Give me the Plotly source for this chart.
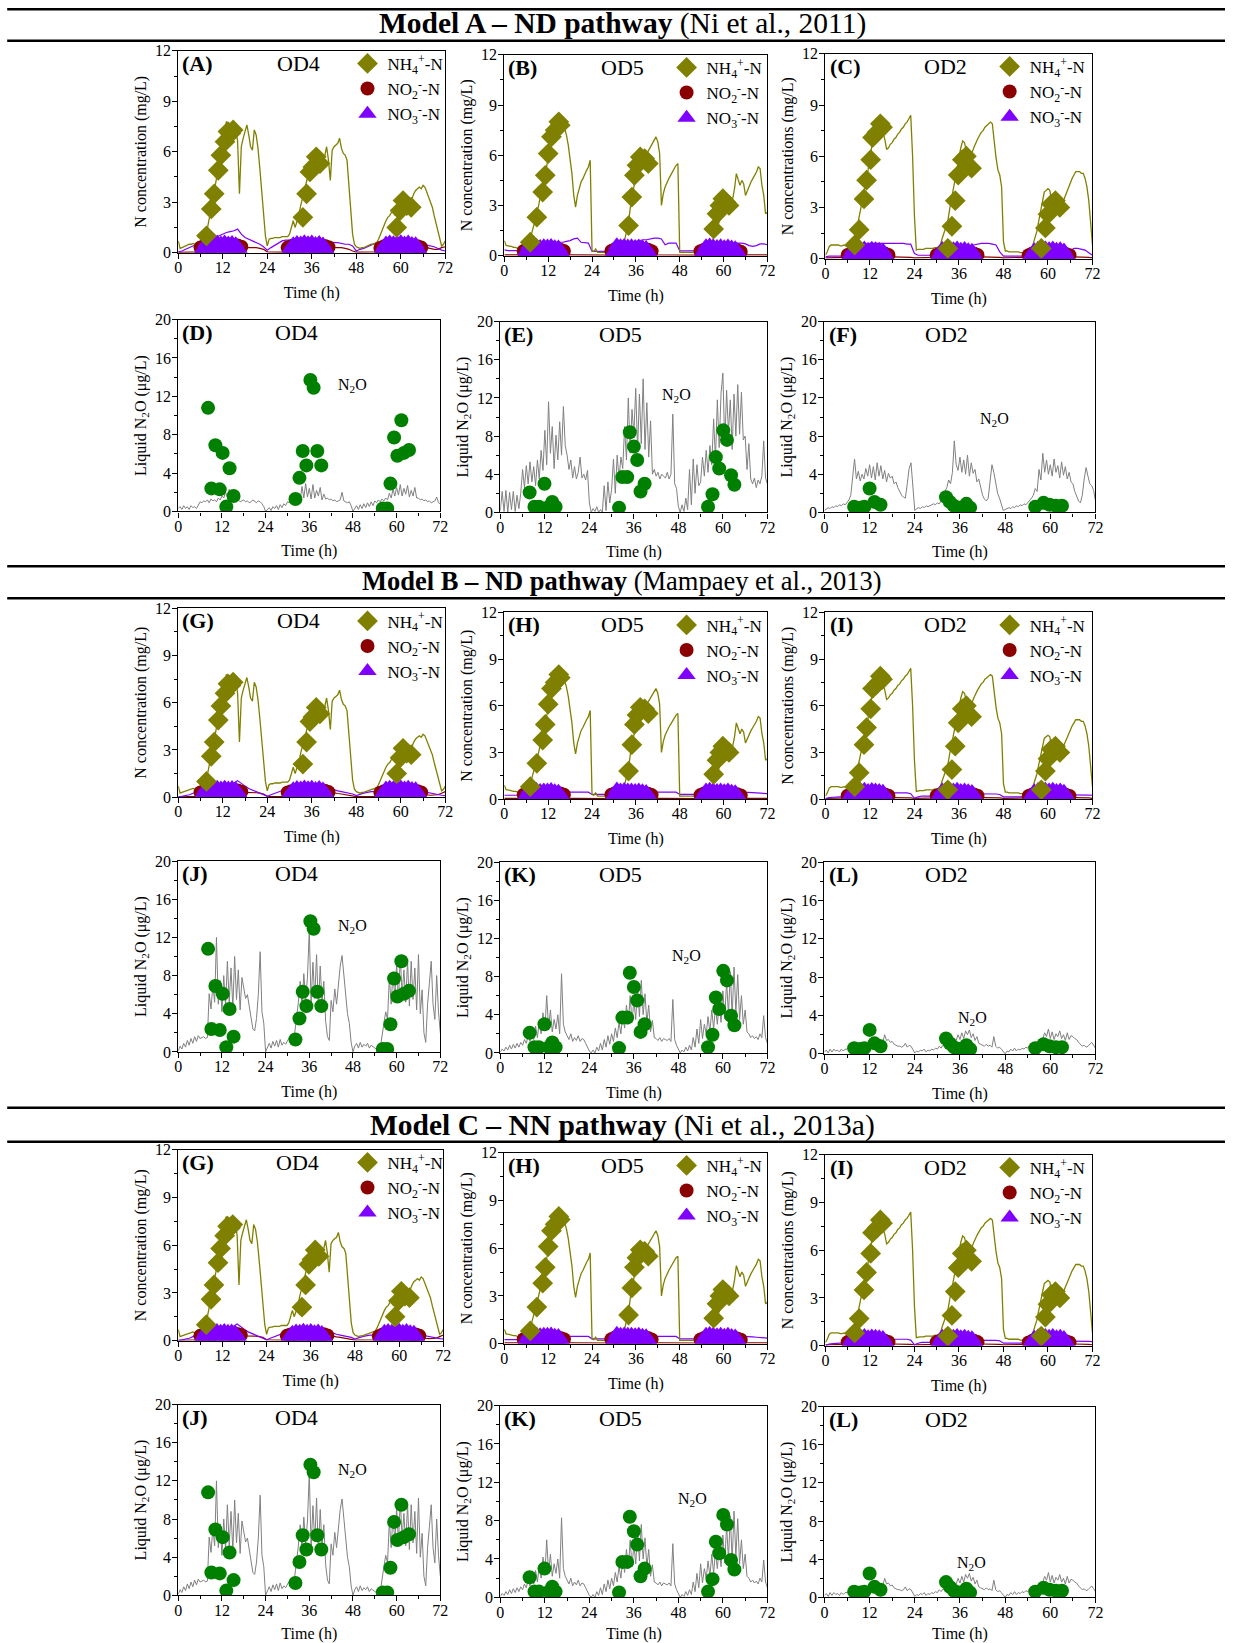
import numpy as np
import plotly.graph_objects as go

W, H = 1233, 1643
FONT = "Liberation Serif, Times New Roman, serif"
# page-to-picture correction measured on the rendered output (scale and offset)
AX, BX, BY = 0.99, 3.8, 7.1

# ---------------- time grids ----------------
t_half = np.arange(0, 72.5, 0.5)   # 145 points
t_hour = np.arange(0, 73, 1.0)     # 73 points

# ---------------- measured NH4+-N (diamonds) ----------------
nh4m_od4_t = [7.6, 8.9, 9.7, 10.8, 11.5, 12.6, 13.4, 14.2, 14.8, 33.6, 34.6, 35.5, 36.3, 37.2, 38.2, 58.9, 59.8, 60.6, 61.6, 62.8]
nh4m_od4_v = [1.0, 2.6, 3.5, 4.9, 5.8, 6.6, 7.2, 7.1, 7.3, 2.1, 3.5, 4.8, 5.1, 5.7, 5.3, 1.5, 2.5, 3.1, 2.8, 2.7]
nh4m_od5_t = [7.1, 8.9, 10.5, 11.2, 12.0, 12.9, 13.9, 14.9, 15.3, 34.0, 34.9, 35.6, 36.3, 37.2, 38.4, 39.4, 57.3, 58.2, 59.0, 59.8, 60.6, 61.5]
nh4m_od5_v = [0.8, 2.3, 3.8, 4.8, 6.1, 7.1, 7.5, 8.0, 7.8, 1.8, 3.5, 4.8, 5.4, 5.9, 5.8, 5.5, 1.6, 2.5, 3.0, 3.4, 3.2, 3.0]
nh4m_od2_t = [7.9, 9.1, 10.4, 11.1, 12.2, 12.7, 13.9, 14.8, 15.4, 33.0, 34.1, 35.0, 35.8, 36.9, 38.0, 39.4, 58.2, 59.3, 60.0, 60.9, 62.0, 63.2]
nh4m_od2_v = [0.8, 1.7, 3.5, 4.6, 5.8, 7.1, 7.4, 7.9, 7.7, 0.6, 1.9, 3.4, 4.9, 5.8, 6.0, 5.3, 0.6, 1.8, 2.6, 3.2, 3.4, 3.0]

# ---------------- measured NO3-/NO2- (dense sensor data) ----------------
cyc_od4 = [6.5, 30.0, 55.0]
cyc_od5 = [5.8, 29.8, 54.2]
cyc_od2 = [6.5, 30.5, 55.3]
no3m_od4_v = [0.15, 0.3, 0.55, 0.22, 0.6, 0.28, 0.52, 0.2, 0.6, 0.3, 0.55, 0.22, 0.6, 0.28, 0.55, 0.2, 0.58, 0.3, 0.5, 0.28, 0.15,
              0.12, 0.32, 0.5, 0.2, 0.58, 0.3, 0.55, 0.22, 0.62, 0.28, 0.56, 0.2, 0.6, 0.3, 0.52, 0.22, 0.58, 0.28, 0.48, 0.25, 0.12,
              0.15, 0.35, 0.55, 0.25, 0.6, 0.2, 0.56, 0.3, 0.58, 0.22, 0.62, 0.28, 0.55, 0.2, 0.6, 0.3, 0.52, 0.25, 0.5, 0.25, 0.12]
no3m_od5_v = [0.15, 0.35, 0.6, 0.25, 0.55, 0.2, 0.58, 0.3, 0.52, 0.22, 0.56, 0.28, 0.55, 0.2, 0.58, 0.3, 0.5, 0.22, 0.48, 0.25, 0.12,
              0.15, 0.32, 0.62, 0.28, 0.56, 0.22, 0.58, 0.3, 0.55, 0.2, 0.56, 0.28, 0.52, 0.22, 0.55, 0.3, 0.5, 0.22, 0.46, 0.22, 0.1,
              0.15, 0.3, 0.56, 0.25, 0.6, 0.22, 0.55, 0.3, 0.52, 0.2, 0.56, 0.28, 0.5, 0.22, 0.55, 0.3, 0.48, 0.25, 0.45, 0.2, 0.1]
no3m_od2_v = [0.12, 0.3, 0.52, 0.22, 0.58, 0.28, 0.55, 0.2, 0.6, 0.3, 0.52, 0.22, 0.58, 0.28, 0.55, 0.2, 0.52, 0.28, 0.48, 0.22, 0.1,
              0.15, 0.32, 0.56, 0.25, 0.6, 0.22, 0.58, 0.3, 0.55, 0.2, 0.6, 0.28, 0.52, 0.22, 0.56, 0.3, 0.5, 0.25, 0.46, 0.22, 0.1,
              0.12, 0.3, 0.5, 0.22, 0.58, 0.28, 0.55, 0.2, 0.6, 0.3, 0.55, 0.22, 0.6, 0.28, 0.52, 0.2, 0.55, 0.28, 0.48, 0.2, 0.1]
no2m_od4_v = [0.3, 0.4, 0.42, 0.4, 0.42, 0.45, 0.42, 0.45, 0.42, 0.4, 0.42, 0.35,
              0.3, 0.38, 0.42, 0.4, 0.44, 0.42, 0.45, 0.42, 0.4, 0.42, 0.4, 0.32,
              0.28, 0.38, 0.4, 0.42, 0.4, 0.44, 0.42, 0.4, 0.42, 0.4, 0.38, 0.3]
no2m_od5_v = [0.28, 0.36, 0.4, 0.38, 0.4, 0.42, 0.4, 0.42, 0.4, 0.38, 0.36, 0.28,
              0.28, 0.38, 0.4, 0.42, 0.4, 0.42, 0.4, 0.42, 0.4, 0.38, 0.35, 0.26,
              0.26, 0.36, 0.4, 0.4, 0.42, 0.4, 0.42, 0.4, 0.38, 0.36, 0.32, 0.24]
no2m_od2_v = [0.22, 0.3, 0.34, 0.36, 0.35, 0.36, 0.35, 0.36, 0.34, 0.33, 0.3, 0.22,
              0.22, 0.3, 0.35, 0.36, 0.35, 0.36, 0.35, 0.36, 0.34, 0.32, 0.3, 0.22,
              0.2, 0.3, 0.34, 0.36, 0.35, 0.36, 0.35, 0.36, 0.34, 0.32, 0.28, 0.2]

# ---------------- measured liquid N2O (green circles) ----------------
n2om_od4_t = [8.2, 9.1, 10.2, 11.4, 12.2, 13.2, 14.1, 15.2, 32.2, 33.3, 34.2, 35.2, 36.3, 37.2, 38.2, 39.3, 56.2, 57.4, 58.3, 59.3, 60.2, 61.3, 62.0, 63.4]
n2om_od4_v = [10.8, 2.4, 6.9, 2.3, 6.1, 0.5, 4.5, 1.6, 1.3, 3.5, 6.3, 4.8, 13.7, 12.9, 6.3, 4.8, 0.3, 0.3, 2.9, 7.7, 5.8, 9.5, 6.1, 6.4]
n2om_od5_t = [7.9, 9.2, 10.4, 11.9, 13.1, 14.0, 14.9, 32.0, 32.9, 34.2, 34.9, 36.0, 36.9, 37.8, 38.9, 56.0, 57.2, 58.1, 59.0, 60.1, 61.1, 62.2, 63.1]
n2om_od5_v = [2.1, 0.6, 0.6, 3.0, 0.6, 1.1, 0.6, 0.5, 3.7, 3.7, 8.4, 6.9, 5.5, 2.2, 3.0, 0.6, 1.9, 5.8, 4.6, 8.6, 7.6, 3.9, 2.9]
n2om_od2_t = [7.9, 9.5, 10.6, 12.0, 13.3, 14.9, 32.3, 33.3, 34.4, 36.0, 37.7, 38.7, 56.0, 58.2, 59.8, 61.5, 63.1]
n2om_od2_v = [0.6, 0.5, 0.6, 2.5, 1.1, 0.8, 1.6, 1.1, 0.7, 0.5, 0.9, 0.5, 0.6, 1.0, 0.8, 0.7, 0.7]

# ---------------- model NH4+-N lines (0.5 h) ----------------
nh4_od4 = [0.7, 0.25, 0.3, 0.35, 0.4, 0.45, 0.5, 0.5, 0.55, 0.5, 0.6, 0.55,
           0.65, 0.7, 0.8, 1.0, 1.5, 2.2, 2.8, 3.4, 4.0, 4.7, 5.3, 5.9,
           6.5, 7.3, 7.8, 7.6, 6.9, 7.5, 6.8, 7.4, 6.6, 3.5, 6.3, 6.8,
           7.2, 7.6, 7.0, 6.3, 6.1, 7.3, 7.0, 6.2, 5.0, 3.6, 2.2, 1.0,
           0.4, 0.8, 0.85, 0.85, 0.9, 0.9, 0.9, 0.9, 0.95, 0.95, 0.95, 0.95,
           1.1, 1.5, 1.9, 1.5, 1.8, 2.2, 2.8, 3.3, 3.8, 4.2, 4.6, 4.9,
           5.2, 5.0, 5.5, 5.2, 5.4, 5.6, 5.2, 5.8, 6.3, 5.5, 4.3, 6.1,
           6.3, 6.4, 6.5, 6.8, 6.2, 5.9, 5.8, 5.5, 4.2, 2.8, 1.1, 0.5,
           0.35, 0.3, 0.25, 0.3, 0.3, 0.35, 0.4, 0.45, 0.5, 0.5, 0.55, 0.6,
           0.8, 1.1, 1.4, 1.7, 1.9, 2.1, 2.2, 2.4, 2.5, 2.2, 2.9, 2.6,
           3.2, 2.5, 3.3, 2.7, 3.1, 2.6, 3.2, 3.5, 3.7, 3.8, 3.9, 3.8,
           4.0, 3.9, 3.6, 3.4, 3.1, 2.7, 2.2, 1.7, 1.2, 0.8, 0.4, 0.5,
           0.7]
nh4_od5 = [0.9, 0.6, 0.6, 0.55, 0.55, 0.5, 0.5, 0.45, 0.45, 0.4, 0.4, 0.4,
           0.45, 0.6, 0.9, 1.4, 1.8, 2.2, 2.6, 3.1, 3.6, 4.1, 4.6, 5.2,
           5.9, 6.6, 7.1, 7.4, 7.7, 8.0, 8.2, 7.9, 8.0, 7.6, 7.2, 6.6,
           5.8, 4.9, 3.6, 2.9, 3.6, 4.0, 4.4, 4.6, 4.9, 5.1, 5.3, 5.7,
           0.3, 0.25, 0.4, 0.2, 0.2, 0.2, 0.2, 0.2, 0.2, 0.2, 0.2, 0.2,
           0.2, 0.2, 0.2, 0.3, 0.5, 0.7, 1.0, 1.5, 2.0, 2.9, 3.6, 4.2,
           4.8, 5.1, 5.5, 5.8, 6.0, 5.9, 6.1, 6.3, 6.5, 6.7, 6.9, 7.1,
           6.8, 6.1, 3.0, 3.7, 4.1, 4.4, 4.6, 4.8, 5.0, 5.2, 5.4, 5.5,
           0.2, 0.2, 0.2, 0.2, 0.2, 0.2, 0.2, 0.2, 0.2, 0.2, 0.2, 0.2,
           0.2, 0.2, 0.2, 0.3, 0.5, 0.7, 0.9, 1.3, 1.6, 1.9, 2.1, 2.4,
           2.6, 2.8, 3.0, 3.1, 3.3, 3.4, 4.0, 4.9, 4.6, 4.2, 4.5, 4.3,
           3.6, 3.9, 4.2, 4.4, 4.6, 4.8, 5.0, 5.3, 5.2, 4.2, 3.6, 2.5,
           2.6]
nh4_od2 = [0.2, 0.4, 0.7, 0.8, 0.8, 0.8, 0.8, 0.8, 0.75, 0.75, 0.8, 0.75,
           0.7, 0.6, 0.5, 0.7, 1.2, 1.7, 2.3, 2.9, 3.5, 4.0, 4.6, 5.2,
           5.9, 6.6, 7.0, 7.3, 7.5, 7.7, 7.6, 7.4, 7.0, 6.4, 6.5, 6.7,
           6.8, 7.0, 7.1, 7.3, 7.4, 7.6, 7.7, 7.9, 8.0, 8.2, 8.4, 6.0,
           2.5, 0.5, 0.55, 0.55, 0.55, 0.55, 0.6, 0.6, 0.6, 0.6, 0.6, 0.65,
           0.65, 0.7, 0.8, 1.2, 1.5, 1.8, 2.2, 2.9, 3.5, 4.2, 4.9, 5.5,
           6.0, 6.5, 6.9, 6.8, 6.3, 5.9, 6.0, 6.2, 6.5, 6.8, 7.0, 7.2,
           7.4, 7.5, 7.7, 7.8, 7.9, 8.0, 7.9, 6.8, 5.9, 5.2, 4.9, 4.2,
           1.0, 0.45, 0.45, 0.4, 0.4, 0.4, 0.4, 0.4, 0.4, 0.35, 0.35, 0.35,
           0.35, 0.35, 0.35, 0.5, 0.9, 1.3, 1.6, 2.2, 2.8, 3.4, 3.9, 4.0,
           4.1, 4.0, 3.3, 3.0, 2.9, 2.8, 2.9, 3.0, 3.3, 3.6, 3.9, 4.2,
           4.5, 4.7, 4.9, 5.1, 5.1, 5.1, 5.0, 5.0, 4.7, 4.2, 3.4, 2.2,
           0.8]

# ---------------- model NO3- / NO2- lines (1 h) ----------------
no3A_od4 = [0.05, 0.1, 0.2, 0.3, 0.4, 0.5, 0.55, 0.6, 0.7, 0.8, 0.9, 1.0,
            1.1, 1.2, 1.25, 1.3, 1.4, 1.1, 0.9, 0.8, 0.7, 0.6, 0.5, 0.35,
            0.15, 0.3, 0.45, 0.6, 0.7, 0.75, 0.75, 0.8, 0.8, 0.8, 0.8, 0.8,
            0.8, 0.75, 0.75, 0.7, 0.7, 0.65, 0.6, 0.6, 0.55, 0.5, 0.5, 0.4,
            0.1, 0.2, 0.25, 0.35, 0.45, 0.55, 0.6, 0.6, 0.6, 0.55, 0.55, 0.5,
            0.5, 0.5, 0.5, 0.5, 0.5, 0.5, 0.5, 0.45, 0.4, 0.35, 0.25, 0.15,
            0.1]
no2A_od4 = [0.02, 0.02, 0.02, 0.02, 0.03, 0.03, 0.05, 0.3, 0.5, 0.6, 0.7, 0.75,
            0.8, 0.8, 0.8, 0.75, 0.6, 0.35, 0.3, 0.3, 0.3, 0.3, 0.25, 0.2,
            0.05, 0.03, 0.03, 0.03, 0.03, 0.03, 0.05, 0.3, 0.5, 0.6, 0.6, 0.6,
            0.6, 0.6, 0.6, 0.6, 0.4, 0.35, 0.3, 0.3, 0.3, 0.25, 0.2, 0.1,
            0.03, 0.03, 0.03, 0.03, 0.03, 0.03, 0.05, 0.3, 0.5, 0.5, 0.5, 0.5,
            0.5, 0.5, 0.5, 0.5, 0.5, 0.35, 0.3, 0.3, 0.25, 0.2, 0.2, 0.3,
            0.35]
no3B_od4 = [0.0, 0.05, 0.1, 0.15, 0.25, 0.35, 0.4, 0.5, 0.55, 0.6, 0.65, 0.7,
            0.75, 0.8, 0.85, 0.9, 1.05, 0.85, 0.7, 0.55, 0.45, 0.35, 0.25, 0.15,
            0.05, 0.15, 0.25, 0.35, 0.45, 0.5, 0.55, 0.6, 0.6, 0.6, 0.6, 0.6,
            0.6, 0.6, 0.6, 0.6, 0.6, 0.55, 0.45, 0.4, 0.35, 0.3, 0.25, 0.2,
            0.1, 0.2, 0.25, 0.3, 0.35, 0.35, 0.35, 0.45, 0.5, 0.5, 0.5, 0.5,
            0.5, 0.5, 0.5, 0.5, 0.5, 0.4, 0.35, 0.3, 0.25, 0.2, 0.15, 0.12,
            0.1]
no2B_od4 = [0.02, 0.02, 0.02, 0.02, 0.02, 0.03, 0.05, 0.3, 0.5, 0.6, 0.7, 0.75,
            0.75, 0.75, 0.7, 0.65, 0.5, 0.35, 0.3, 0.3, 0.3, 0.28, 0.25, 0.2,
            0.05, 0.03, 0.03, 0.03, 0.03, 0.03, 0.05, 0.3, 0.5, 0.6, 0.6, 0.6,
            0.6, 0.6, 0.55, 0.5, 0.35, 0.3, 0.25, 0.23, 0.2, 0.15, 0.12, 0.08,
            0.03, 0.03, 0.03, 0.03, 0.03, 0.03, 0.05, 0.3, 0.45, 0.5, 0.5, 0.5,
            0.5, 0.5, 0.5, 0.45, 0.4, 0.3, 0.2, 0.15, 0.12, 0.12, 0.15, 0.25,
            0.35]
no3A_od5 = [0.35, 0.3, 0.3, 0.3, 0.3, 0.3, 0.3, 0.5, 0.6, 0.65, 0.7, 0.75,
            0.75, 0.8, 0.8, 0.8, 0.8, 0.85, 0.9, 1.0, 1.05, 0.8, 0.78, 0.75,
            0.25, 0.25, 0.25, 0.25, 0.25, 0.25, 0.25, 0.5, 0.6, 0.7, 0.75, 0.8,
            0.85, 0.9, 0.95, 0.95, 1.0, 1.05, 1.05, 1.0, 0.65, 0.75, 0.75, 0.75,
            0.28, 0.28, 0.28, 0.28, 0.28, 0.28, 0.28, 0.5, 0.6, 0.7, 0.75, 0.75,
            0.75, 0.75, 0.75, 0.75, 0.75, 0.75, 0.7, 0.6, 0.55, 0.6, 0.7, 0.7,
            0.65]
no2_od5 = [0.05, 0.05, 0.05, 0.05, 0.05, 0.05, 0.1, 0.3, 0.4, 0.4, 0.4, 0.4,
           0.4, 0.4, 0.35, 0.3, 0.25, 0.1, 0.05, 0.05, 0.05, 0.05, 0.05, 0.05,
           0.03, 0.03, 0.03, 0.03, 0.03, 0.03, 0.1, 0.3, 0.4, 0.4, 0.4, 0.4,
           0.4, 0.4, 0.35, 0.3, 0.2, 0.1, 0.05, 0.05, 0.05, 0.05, 0.05, 0.05,
           0.03, 0.03, 0.03, 0.03, 0.03, 0.03, 0.1, 0.3, 0.4, 0.4, 0.4, 0.4,
           0.4, 0.4, 0.35, 0.3, 0.2, 0.1, 0.05, 0.05, 0.05, 0.05, 0.05, 0.05,
           0.05]
no3B_od5 = [0.25, 0.25, 0.25, 0.25, 0.25, 0.25, 0.3, 0.4, 0.45, 0.5, 0.5, 0.5,
            0.5, 0.5, 0.5, 0.5, 0.5, 0.45, 0.45, 0.45, 0.45, 0.45, 0.45, 0.45,
            0.3, 0.3, 0.3, 0.3, 0.3, 0.3, 0.3, 0.4, 0.45, 0.5, 0.5, 0.5,
            0.5, 0.5, 0.5, 0.5, 0.5, 0.45, 0.45, 0.45, 0.45, 0.45, 0.45, 0.45,
            0.3, 0.3, 0.3, 0.3, 0.3, 0.3, 0.3, 0.4, 0.45, 0.5, 0.5, 0.5,
            0.5, 0.5, 0.5, 0.5, 0.5, 0.45, 0.45, 0.45, 0.42, 0.4, 0.38, 0.36,
            0.35]
no3A_od2 = [0.1, 0.15, 0.15, 0.15, 0.15, 0.15, 0.2, 0.5, 0.7, 0.8, 0.85, 0.85,
            0.9, 0.9, 0.9, 0.9, 0.9, 0.9, 0.9, 0.9, 0.9, 0.9, 0.85, 0.85,
            0.3, 0.2, 0.2, 0.2, 0.2, 0.2, 0.2, 0.4, 0.6, 0.7, 0.7, 0.7,
            0.7, 0.7, 0.75, 0.75, 0.8, 0.85, 0.9, 0.9, 0.9, 0.85, 0.8, 0.4,
            0.15, 0.15, 0.15, 0.15, 0.15, 0.15, 0.15, 0.15, 0.4, 0.55, 0.6, 0.6,
            0.6, 0.6, 0.6, 0.6, 0.6, 0.3, 0.45, 0.6, 0.6, 0.55, 0.5, 0.35,
            0.2]
no2_od2 = [0.05, 0.05, 0.05, 0.05, 0.05, 0.05, 0.08, 0.15, 0.2, 0.2, 0.2, 0.2,
           0.2, 0.2, 0.2, 0.2, 0.15, 0.1, 0.1, 0.1, 0.1, 0.08, 0.08, 0.08,
           0.05, 0.05, 0.05, 0.05, 0.05, 0.05, 0.08, 0.15, 0.2, 0.2, 0.2, 0.2,
           0.2, 0.2, 0.2, 0.2, 0.15, 0.1, 0.1, 0.1, 0.1, 0.08, 0.08, 0.08,
           0.05, 0.05, 0.05, 0.05, 0.05, 0.05, 0.05, 0.08, 0.15, 0.2, 0.2, 0.2,
           0.2, 0.2, 0.2, 0.2, 0.2, 0.15, 0.1, 0.1, 0.1, 0.08, 0.08, 0.08,
           0.05]
no3B_od2 = [0.0, 0.1, 0.12, 0.15, 0.15, 0.15, 0.2, 0.3, 0.35, 0.4, 0.4, 0.4,
            0.4, 0.4, 0.4, 0.4, 0.42, 0.43, 0.43, 0.43, 0.43, 0.42, 0.4, 0.35,
            0.05, 0.15, 0.2, 0.2, 0.2, 0.2, 0.2, 0.3, 0.35, 0.35, 0.35, 0.35,
            0.35, 0.35, 0.35, 0.35, 0.35, 0.35, 0.35, 0.35, 0.35, 0.35, 0.33, 0.3,
            0.15, 0.15, 0.15, 0.15, 0.15, 0.15, 0.15, 0.2, 0.3, 0.3, 0.3, 0.3,
            0.3, 0.3, 0.3, 0.3, 0.3, 0.3, 0.3, 0.3, 0.3, 0.28, 0.27, 0.26,
            0.25]

# ---------------- model liquid N2O lines (0.5 h) ----------------
n2oA_od4 = [0.3, 0.5, 0.2, 0.6, 0.3, 0.5, 0.2, 0.6, 0.4, 0.5, 0.3, 0.6,
            1.0, 0.9, 1.1, 1.0, 1.2, 0.9, 1.3, 1.1, 1.2, 1.0, 1.4, 1.2,
            1.6, 1.4, 2.0, 1.5, 2.3, 1.6, 2.0, 1.3, 1.1, 1.2, 1.0, 1.1,
            1.2, 1.0, 1.1, 0.9, 1.0, 1.2, 1.0, 0.9, 1.1, 1.0, 0.8, 0.5,
            0.0, 0.2, 0.4, 0.1, 0.5, 0.3, 0.6, 0.2, 0.7, 0.4, 0.8, 0.6,
            1.0, 0.9, 1.2, 1.1, 1.4, 1.3, 1.8, 1.2, 2.6, 1.4, 2.9, 1.5,
            2.4, 1.3, 2.8, 1.4, 2.2, 1.6, 2.5, 1.2, 1.8, 1.3, 1.4, 1.2,
            1.3, 1.1, 1.2, 1.0, 1.1, 1.2, 2.0, 1.1, 1.0, 0.9, 1.0, 0.6,
            0.0, 0.3, 0.6, 0.2, 0.7, 0.3, 0.8, 0.4, 0.9, 0.5, 1.0, 0.6,
            1.1, 0.9, 1.2, 1.0, 1.3, 1.1, 1.4, 1.2, 1.9, 1.4, 2.3, 1.6,
            2.5, 1.7, 2.8, 1.6, 2.4, 1.8, 2.7, 1.5, 2.2, 1.6, 2.5, 1.4,
            1.4, 1.2, 1.3, 1.1, 1.2, 1.0, 1.1, 0.9, 1.0, 1.1, 1.5, 0.9,
            0.8]
n2oA_od5 = [0.2, 2.2, 0.1, 2.3, 0.0, 2.1, 0.3, 2.2, 0.1, 1.8, 0.4, 2.0,
            4.5, 2.6, 4.9, 3.0, 5.3, 3.2, 4.8, 2.8, 5.5, 3.5, 6.5, 4.4,
            8.6, 5.0, 11.6, 6.2, 9.0, 4.6, 8.1, 5.5, 9.5, 6.0, 11.1, 7.0,
            6.0, 4.5, 5.5, 3.6, 4.8, 3.5, 4.2, 5.8, 3.6, 4.0, 3.4, 4.4,
            1.0, 0.0, 0.4, 0.1, 0.6, 0.0, 0.3, 0.0, 2.8, 0.2, 3.2, 1.0,
            2.4, 5.6, 2.0, 6.0, 3.5, 5.8, 4.6, 9.0, 5.5, 12.0, 6.2, 10.8,
            8.2, 13.0, 6.5, 12.4, 7.2, 14.0, 6.6, 11.5, 5.8, 9.6, 4.0, 4.5,
            3.8, 4.2, 3.5, 4.0, 3.8, 3.6, 4.2, 3.5, 4.0, 10.3, 3.0, 2.5,
            0.6, 0.0, 0.8, 0.1, 1.5, 0.3, 4.5, 0.8, 5.6, 2.0, 5.0, 2.8,
            3.2, 5.8, 3.8, 6.5, 4.2, 7.0, 5.0, 9.8, 5.5, 11.8, 6.8, 12.5,
            14.6, 7.0, 12.8, 8.4, 11.8, 6.6, 12.4, 8.0, 13.4, 8.2, 12.6, 7.6,
            8.0, 4.5, 7.2, 3.5, 3.0, 3.6, 2.6, 3.4, 3.0, 3.8, 7.5, 3.6,
            3.0]
n2oA_od2 = [0.2, 0.4, 0.5, 0.4, 0.6, 0.5, 0.7, 0.6, 0.8, 0.7, 0.9, 0.8,
            1.0, 1.3, 1.8, 3.9, 5.6, 3.5, 4.3, 3.3, 4.0, 3.5, 4.6, 3.8,
            5.0, 3.6, 4.8, 3.4, 5.2, 3.8, 4.9, 3.5, 4.4, 3.2, 4.1, 3.6,
            3.8, 3.0, 3.2, 2.6, 2.2, 1.8, 1.6, 1.5, 3.0, 4.6, 5.2, 3.0,
            0.2, 0.4, 0.5, 0.4, 0.6, 0.5, 0.7, 0.6, 0.7, 0.8, 0.9, 0.8,
            1.0, 0.9, 1.2, 1.5, 2.2, 2.6, 3.4, 3.0, 4.2, 7.5, 5.0, 4.4,
            5.8, 4.2, 5.5, 4.0, 6.0, 3.8, 5.2, 4.1, 4.5, 3.2, 3.5, 2.6,
            1.8, 1.4, 1.2, 1.5, 3.0, 5.0, 4.2, 3.0, 2.0, 1.5, 0.8, 0.2,
            0.3, 0.4, 0.5, 0.4, 0.6, 0.5, 0.7, 0.6, 0.8, 0.7, 0.9, 0.8,
            1.0, 1.2, 1.5, 1.8, 2.5, 2.2, 4.5, 3.4, 6.2, 4.2, 5.5, 4.0,
            5.0, 3.8, 5.6, 4.2, 4.9, 3.6, 5.3, 3.9, 4.8, 3.5, 4.2, 3.2,
            3.0, 2.2, 1.6, 1.2, 1.0, 1.8, 3.5, 4.7, 3.8, 3.0, 2.8, 2.3,
            1.2]
n2oB_od4 = [0.1, 0.6, 0.3, 0.9, 0.5, 1.2, 0.7, 1.4, 0.9, 1.6, 1.1, 1.7,
            1.4, 1.5, 1.6, 1.4, 1.5, 6.1, 4.5, 7.0, 5.2, 12.0, 5.0, 7.5,
            4.2, 8.0, 4.8, 9.5, 5.2, 8.8, 4.6, 10.0, 5.5, 8.6, 4.4, 7.8,
            6.5, 5.6, 6.0, 4.8, 3.2, 2.4, 2.2, 3.5, 6.0, 10.5, 4.2, 3.0,
            0.0, 0.5, 0.9, 0.4, 1.1, 0.6, 1.2, 0.5, 1.3, 0.7, 1.0, 0.8,
            1.2, 1.5, 1.8, 1.4, 2.0, 3.5, 5.2, 7.4, 4.8, 8.2, 5.5, 7.8,
            12.8, 5.0, 9.4, 5.6, 10.2, 4.6, 9.0, 5.2, 7.4, 3.2, 1.6, 1.2,
            5.4, 4.2, 6.6, 5.0, 7.2, 9.0, 10.1, 8.0, 6.2, 4.0, 3.0, 1.0,
            0.0, 0.6, 0.9, 0.4, 1.0, 0.5, 0.8, 0.6, 0.9, 0.4, 0.7, 0.5,
            0.4, 0.3, 0.5, 0.4, 2.0, 3.0, 4.2, 3.4, 7.8, 5.0, 8.4, 5.6,
            9.2, 5.4, 10.0, 6.0, 8.6, 5.2, 9.6, 4.8, 9.5, 5.5, 8.8, 4.4,
            10.2, 4.0, 6.5, 2.0, 1.0, 5.0, 7.2, 9.5, 5.0, 3.4, 8.0, 4.2,
            2.0]
n2oB_od5 = [0.1, 0.4, 0.2, 0.6, 0.3, 0.8, 0.4, 0.9, 0.5, 1.0, 0.6, 1.1,
            0.8, 1.4, 1.0, 1.8, 1.2, 2.2, 1.4, 2.8, 1.6, 3.4, 2.0, 4.2,
            2.4, 6.0, 2.6, 4.5, 2.2, 3.5, 2.5, 4.0, 2.0, 8.3, 3.0, 2.2,
            1.8, 1.4, 2.0, 1.2, 1.6, 1.3, 1.8, 1.2, 1.5, 1.4, 1.0, 0.6,
            0.2, 0.0, 0.3, 0.0, 0.6, 0.2, 1.0, 0.3, 1.4, 0.6, 1.8, 0.9,
            2.0, 1.2, 2.6, 1.6, 3.2, 2.0, 4.0, 2.6, 5.0, 3.0, 6.0, 3.2,
            5.5, 3.5, 7.0, 3.8, 7.6, 4.0, 6.2, 3.2, 5.0, 2.2, 3.4, 1.6,
            1.5, 1.3, 1.6, 1.2, 1.5, 1.4, 1.3, 1.5, 1.2, 5.6, 1.4, 0.8,
            0.4, 0.0, 0.3, 0.1, 0.6, 0.2, 0.8, 0.3, 1.6, 0.6, 2.5, 1.0,
            3.5, 1.5, 3.0, 2.0, 3.8, 2.2, 4.5, 2.5, 4.8, 3.0, 5.2, 3.2,
            6.5, 3.6, 7.5, 4.0, 8.5, 3.8, 9.0, 4.2, 8.2, 3.5, 6.0, 3.0,
            4.5, 2.2, 2.0, 1.6, 1.8, 1.5, 1.7, 1.4, 2.0, 1.6, 3.9, 1.6,
            1.0]
n2oB_od2 = [0.2, 0.4, 0.1, 0.5, 0.2, 0.5, 0.3, 0.4, 0.2, 0.5, 0.3, 0.5,
            0.5, 0.6, 0.7, 0.5, 0.8, 0.6, 0.9, 0.7, 1.0, 0.8, 1.2, 0.9,
            1.1, 0.9, 1.3, 1.0, 1.4, 1.1, 1.5, 1.2, 2.0, 1.4, 1.5, 1.2,
            1.3, 1.0, 0.9, 0.8, 0.8, 0.7, 0.8, 1.1, 0.7, 0.9, 0.8, 0.5,
            0.1, 0.3, 0.2, 0.4, 0.3, 0.5, 0.2, 0.4, 0.3, 0.5, 0.4, 0.6,
            0.5, 0.8, 0.6, 0.9, 0.8, 1.1, 1.0, 1.3, 1.2, 1.6, 1.4, 2.0,
            1.5, 2.2, 1.6, 2.4, 2.0, 2.5, 1.7, 2.1, 1.4, 1.8, 1.1, 1.0,
            0.9, 0.8, 1.0, 0.8, 0.9, 0.7, 1.8, 0.8, 0.6, 0.7, 0.5, 0.3,
            0.0, 0.3, 0.2, 0.5, 0.3, 0.6, 0.3, 0.5, 0.4, 0.6, 0.5, 0.7,
            0.6, 0.9, 0.8, 1.1, 1.0, 1.2, 1.3, 1.5, 1.6, 2.2, 1.8, 2.6,
            1.6, 2.3, 1.5, 2.1, 1.8, 2.4, 1.6, 2.0, 1.4, 2.2, 1.5, 1.9,
            1.8, 1.6, 1.5, 1.2, 1.0, 0.8, 0.9, 0.7, 0.8, 1.0, 1.2, 0.9,
            0.6]

# ---------------- texts ----------------
x_ticks = [0, 12, 24, 36, 48, 60, 72]
n_ticks = [0, 3, 6, 9, 12]
n2o_ticks = [0, 4, 8, 12, 16, 20]
titles = ["<b>Model A – ND pathway</b> (Ni et al., 2011)",
          "<b>Model B – ND pathway</b> (Mampaey et al., 2013)",
          "<b>Model C – NN pathway</b> (Ni et al., 2013a)"]
title_sizes = [29.5, 26.5, 29.5]
panel_letters = ["A", "B", "C", "D", "E", "F", "G", "H", "I", "J", "K", "L",
                 "G", "H", "I", "J", "K", "L"]
od_names = ["OD4", "OD5", "OD2"]

# ---------------- layout geometry (target pixels: left, right, top, bottom) ----------------
boxes = [
    (178, 445, 50, 252), (504, 767, 54, 255), (825, 1092, 53, 258),
    (178, 440, 319, 511), (500, 767, 321, 512), (824, 1095, 321, 512),
    (178, 445, 608, 797), (504, 767, 612, 799), (825, 1092, 612, 799),
    (178, 440, 861, 1052), (500, 767, 862, 1053), (824, 1095, 862, 1054),
    (178, 443, 1150, 1341), (504, 767, 1153, 1344), (825, 1092, 1155, 1346),
    (178, 440, 1405, 1596), (500, 767, 1406, 1598), (824, 1095, 1407, 1598),
]


def TX(x):
    return (x - BX) / AX


def TY(y):
    return (y - BY) / AX


def PX(x):
    return TX(x) / W


def PY(y):
    return 1 - TY(y) / H


OLIVE = "#808000"
DRED = "#8B0000"
PURPLE = "#8000FF"
GREEN = "#008000"
GRAY = "#808080"

fig = go.Figure()
layout = dict(width=W, height=H, margin=dict(l=0, r=0, t=0, b=0),
              paper_bgcolor="white", plot_bgcolor="white",
              font=dict(family=FONT, color="black", size=16),
              showlegend=True)
annotations = []
shapes = []

n_data = {
    "A": {"OD4": (no3A_od4, no2A_od4), "OD5": (no3A_od5, no2_od5), "OD2": (no3A_od2, no2_od2)},
    "B": {"OD4": (no3B_od4, no2B_od4), "OD5": (no3B_od5, no2_od5), "OD2": (no3B_od2, no2_od2)},
}
nh4_line = {"OD4": nh4_od4, "OD5": nh4_od5, "OD2": nh4_od2}
nh4_meas = {"OD4": (nh4m_od4_t, nh4m_od4_v), "OD5": (nh4m_od5_t, nh4m_od5_v), "OD2": (nh4m_od2_t, nh4m_od2_v)}
cycles = {"OD4": cyc_od4, "OD5": cyc_od5, "OD2": cyc_od2}
no3_meas = {"OD4": no3m_od4_v, "OD5": no3m_od5_v, "OD2": no3m_od2_v}
no2_meas = {"OD4": no2m_od4_v, "OD5": no2m_od5_v, "OD2": no2m_od2_v}
n2o_line = {"A": {"OD4": n2oA_od4, "OD5": n2oA_od5, "OD2": n2oA_od2},
            "B": {"OD4": n2oB_od4, "OD5": n2oB_od5, "OD2": n2oB_od2}}
n2o_meas = {"OD4": (n2om_od4_t, n2om_od4_v), "OD5": (n2om_od5_t, n2om_od5_v), "OD2": (n2om_od2_t, n2om_od2_v)}
n2o_label_pos = {  # (model, od): (x, y) in data units
    ("A", "OD4"): (48, 13.1), ("A", "OD5"): (47.5, 12.3), ("A", "OD2"): (45.2, 9.7),
    ("B", "OD4"): (48, 13.1), ("B", "OD5"): (50.3, 10.1), ("B", "OD2"): (39.3, 3.7),
    ("C", "OD4"): (48, 13.1), ("C", "OD5"): (51.7, 10.2), ("C", "OD2"): (39.0, 3.6),
}

legend_count = 0
for idx, (l, r, t, b) in enumerate(boxes):
    i = idx + 1
    row = idx // 3
    col = idx % 3
    od = od_names[col]
    model = ["A", "A", "B", "B", "C", "C"][row]
    dmodel = "A" if model == "A" else "B"
    is_n = (row % 2 == 0)
    xs = "x" if i == 1 else f"x{i}"
    ys = "y" if i == 1 else f"y{i}"
    xk = "xaxis" if i == 1 else f"xaxis{i}"
    yk = "yaxis" if i == 1 else f"yaxis{i}"

    axis_common = dict(showline=True, mirror=True, linecolor="black", linewidth=1.2,
                       showgrid=False, zeroline=False, ticks="outside", ticklen=5,
                       tickwidth=1.2, tickcolor="black",
                       tickfont=dict(family=FONT, size=16, color="black"))
    layout[xk] = dict(axis_common, domain=[PX(l), PX(r)], anchor=ys, range=[0, 72],
                      tickvals=x_ticks, ticklabelstandoff=-5,
                      minor=dict(ticks="outside", ticklen=3, tickvals=[6, 18, 30, 42, 54, 66],
                                 tickcolor="black"),
                      title=dict(text="Time (h)", font=dict(family=FONT, size=16), standoff=11))
    if is_n:
        ytitle = "N concentrations (mg/L)" if col == 2 else "N concentration (mg/L)"
        layout[yk] = dict(axis_common, domain=[PY(b), PY(t)], anchor=xs, range=[0, 12],
                          tickvals=n_ticks, ticklabelstandoff=-2,
                          minor=dict(ticks="outside", ticklen=3, tickvals=[1.5, 4.5, 7.5, 10.5],
                                     tickcolor="black"),
                          title=dict(text=ytitle, font=dict(family=FONT, size=16), standoff=4))
        no3_l, no2_l = n_data[dmodel][od]
        fig.add_trace(go.Scatter(x=t_hour, y=no2_l, mode="lines", line=dict(color=DRED, width=1.2),
                                 xaxis=xs, yaxis=ys, showlegend=False, hoverinfo="skip"))
        fig.add_trace(go.Scatter(x=t_hour, y=no3_l, mode="lines", line=dict(color=PURPLE, width=1.2),
                                 xaxis=xs, yaxis=ys, showlegend=False, hoverinfo="skip"))
        fig.add_trace(go.Scatter(x=t_half, y=nh4_line[od], mode="lines", line=dict(color=OLIVE, width=1.3),
                                 xaxis=xs, yaxis=ys, showlegend=False, hoverinfo="skip"))
        legend_count += 1
        lg = "legend" if legend_count == 1 else f"legend{legend_count}"
        no2_t = np.concatenate([np.arange(s - 0.5, s + 11.0, 1.0) for s in cycles[od]])
        no3_t = np.concatenate([np.arange(s, s + 10.01, 0.5) for s in cycles[od]])
        fig.add_trace(go.Scatter(x=no2_t, y=no2_meas[od], mode="markers",
                                 marker=dict(symbol="circle", size=14, color=DRED, line=dict(width=0)),
                                 xaxis=xs, yaxis=ys, name="NO<sub>2</sub><sup>-</sup>-N",
                                 legend=lg, legendrank=2))
        fig.add_trace(go.Scatter(x=no3_t, y=no3_meas[od], mode="markers",
                                 marker=dict(symbol="triangle-up", size=16, color=PURPLE, line=dict(width=0)),
                                 xaxis=xs, yaxis=ys, name="NO<sub>3</sub><sup>-</sup>-N",
                                 legend=lg, legendrank=3))
        mt, mv = nh4_meas[od]
        fig.add_trace(go.Scatter(x=mt, y=mv, mode="markers",
                                 marker=dict(symbol="diamond", size=16, color=OLIVE, line=dict(width=0)),
                                 xaxis=xs, yaxis=ys, name="NH<sub>4</sub><sup>+</sup>-N",
                                 legend=lg, legendrank=1))
        sym_x = [367, 686, 1009][col]
        layout[lg] = dict(x=(TX(sym_x) - 20) / W, y=1 - (TY(t) - 5) / H,
                          xanchor="left", yanchor="top",
                          bgcolor="rgba(0,0,0,0)", borderwidth=0, traceorder="normal",
                          itemsizing="trace", font=dict(family=FONT, size=17, color="black"),
                          itemclick=False, itemdoubleclick=False)
    else:
        layout[yk] = dict(axis_common, domain=[PY(b), PY(t)], anchor=xs, range=[0, 20],
                          tickvals=n2o_ticks, ticklabelstandoff=-2,
                          minor=dict(ticks="outside", ticklen=3, tickvals=[2, 6, 10, 14, 18],
                                     tickcolor="black"),
                          title=dict(text="Liquid N<sub>2</sub>O (μg/L)", font=dict(family=FONT, size=16),
                                     standoff=4))
        fig.add_trace(go.Scatter(x=t_half, y=n2o_line[dmodel][od], mode="lines",
                                 line=dict(color=GRAY, width=1), xaxis=xs, yaxis=ys,
                                 showlegend=False, hoverinfo="skip"))
        mt, mv = n2o_meas[od]
        fig.add_trace(go.Scatter(x=mt, y=mv, mode="markers",
                                 marker=dict(symbol="circle", size=14, color=GREEN, line=dict(width=0)),
                                 xaxis=xs, yaxis=ys, showlegend=False, hoverinfo="skip"))
        px, py = n2o_label_pos[(model, od)]
        annotations.append(dict(x=px, y=py, xref=xs, yref=ys, text="N<sub>2</sub>O", showarrow=False,
                                font=dict(family=FONT, size=16, color="black")))

    # panel letter and OD label
    annotations.append(dict(x=0.008, y=1, xref=f"{xs} domain", yref=f"{ys} domain",
                            xanchor="left", yanchor="top", yshift=2,
                            text=f"<b>({panel_letters[idx]})</b>", showarrow=False,
                            font=dict(family=FONT, size=22, color="black")))
    annotations.append(dict(x=0.45, y=1, xref=f"{xs} domain", yref=f"{ys} domain",
                            xanchor="center", yanchor="top", yshift=2,
                            text=od, showarrow=False,
                            font=dict(family=FONT, size=22, color="black")))

# section titles and rules
title_y = [23, 581, 1126]
rule_y = [(5, 40), (566, 598), (1108, 1142)]
for k in range(3):
    annotations.append(dict(x=PX(622), y=PY(title_y[k]), xref="paper", yref="paper",
                            xanchor="center", yanchor="middle", text=titles[k], showarrow=False,
                            font=dict(family=FONT, size=title_sizes[k], color="black")))
    for yy in rule_y[k]:
        yv = min(PY(yy), 1 - 1.3 / H)
        shapes.append(dict(type="line", xref="paper", yref="paper", x0=max(PX(7), 0), x1=1.0,
                           y0=yv, y1=yv, line=dict(color="black", width=2.5)))

layout["annotations"] = annotations
layout["shapes"] = shapes
fig.update_layout(**layout)
fig.write_html("out.html", config={"displayModeBar": False},
               post_script="document.body.style.margin='0';document.body.style.overflow='hidden';")
